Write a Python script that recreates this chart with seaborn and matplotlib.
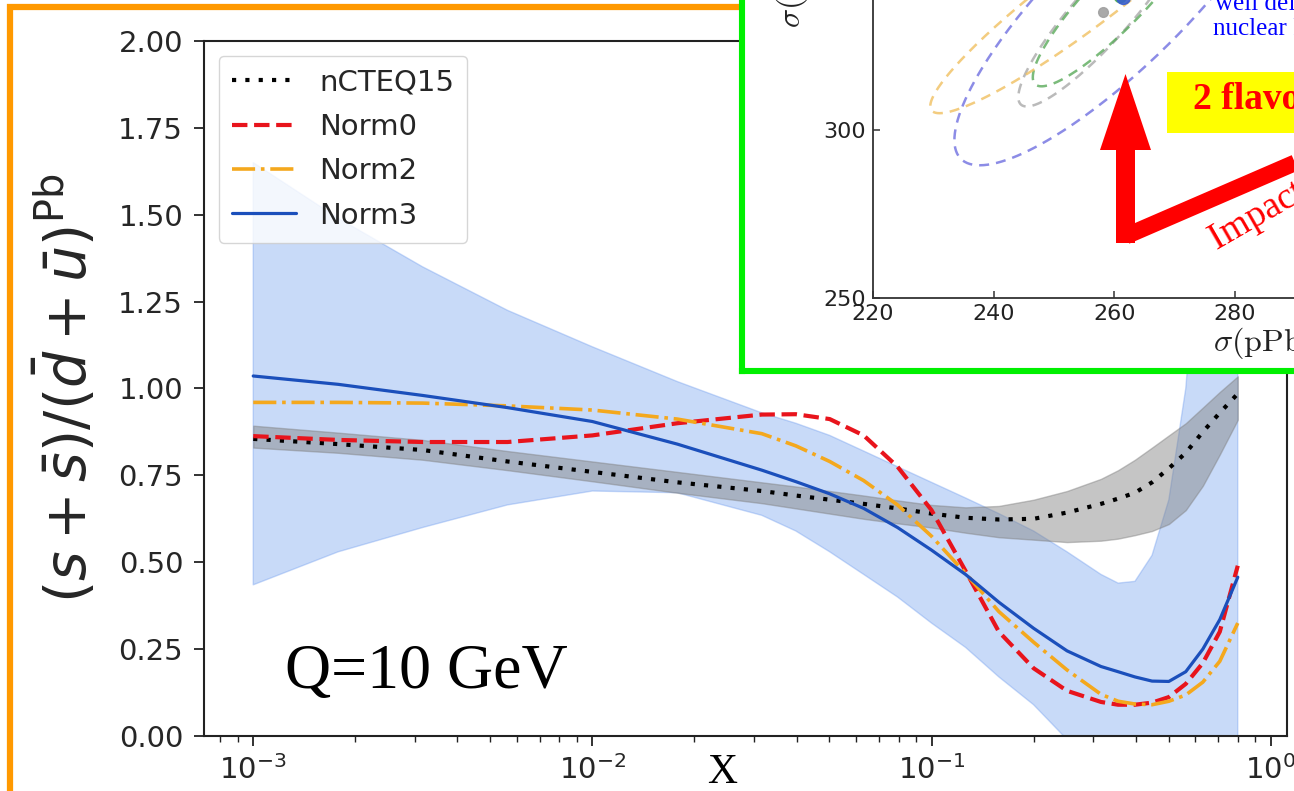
import numpy as np
import pandas as pd
import matplotlib
matplotlib.use("Agg")
import matplotlib.pyplot as plt
from matplotlib.patches import Rectangle, FancyArrow
from matplotlib.lines import Line2D
import seaborn as sns

# ---------------- data: strange-to-light sea quark ratio in Pb, Q = 10 GeV ----------------
x = [0.001, 0.00178, 0.00316, 0.00562, 0.01, 0.0178, 0.0316, 0.0398, 0.0501, 0.0631,
     0.0794, 0.1, 0.126, 0.158, 0.2, 0.251, 0.316, 0.355, 0.398, 0.447, 0.501, 0.562,
     0.631, 0.708, 0.8]

ncteq15 = [0.855, 0.840, 0.823, 0.790, 0.760, 0.730, 0.705, 0.692, 0.680, 0.668, 0.655, 0.640,
           0.628, 0.623, 0.625, 0.643, 0.668, 0.683, 0.700, 0.730, 0.770, 0.815, 0.875, 0.930, 0.985]
ncteq15_lo = [0.830, 0.815, 0.795, 0.765, 0.733, 0.700, 0.670, 0.655, 0.640, 0.625, 0.612, 0.600,
              0.585, 0.572, 0.565, 0.558, 0.562, 0.568, 0.578, 0.590, 0.610, 0.650, 0.720, 0.810, 0.910]
ncteq15_hi = [0.893, 0.873, 0.852, 0.820, 0.790, 0.760, 0.730, 0.718, 0.705, 0.692, 0.678, 0.665,
              0.658, 0.662, 0.680, 0.705, 0.740, 0.765, 0.795, 0.830, 0.865, 0.900, 0.945, 0.990, 1.035]

norm0 = [0.863, 0.852, 0.846, 0.846, 0.865, 0.900, 0.925, 0.926, 0.912, 0.865, 0.775, 0.650,
         0.475, 0.300, 0.195, 0.130, 0.098, 0.090, 0.090, 0.096, 0.112, 0.150, 0.210, 0.300, 0.490]
norm2 = [0.960, 0.960, 0.958, 0.950, 0.938, 0.912, 0.870, 0.835, 0.790, 0.735, 0.665, 0.575,
         0.468, 0.358, 0.270, 0.190, 0.120, 0.100, 0.092, 0.090, 0.100, 0.118, 0.155, 0.215, 0.325]
norm3 = [1.036, 1.012, 0.980, 0.945, 0.905, 0.840, 0.765, 0.732, 0.697, 0.655, 0.600, 0.535,
         0.465, 0.385, 0.310, 0.245, 0.200, 0.185, 0.170, 0.158, 0.157, 0.185, 0.250, 0.335, 0.457]
norm3_lo = [0.435, 0.530, 0.600, 0.665, 0.705, 0.700, 0.635, 0.590, 0.530, 0.465, 0.400, 0.325,
            0.255, 0.170, 0.090, -0.010, -0.100, -0.150, -0.200, -0.200, -0.200, -0.200, -0.200, -0.200, -0.200]
norm3_hi = [1.650, 1.490, 1.350, 1.225, 1.120, 1.020, 0.930, 0.900, 0.865, 0.820, 0.775, 0.730,
            0.685, 0.640, 0.590, 0.530, 0.465, 0.440, 0.445, 0.520, 0.680, 1.000, 1.600, 2.300, 3.000]

series_names = ["nCTEQ15", "Norm0", "Norm2", "Norm3"]
y_ticks = [0.00, 0.25, 0.50, 0.75, 1.00, 1.25, 1.50, 1.75, 2.00]

# ---------------- inset: W cross-section correlation ellipses ----------------
ell_names = ["nCTEQ15", "Norm0", "Norm2", "Norm3"]
ell_cx = [258.1, 261.0, 255.0, 261.5]
ell_cy = [335.0, 340.0, 340.0, 339.5]
ell_sx = [14.0, 14.5, 25.5, 28.0]
ell_sy = [28.0, 27.0, 35.0, 50.0]
ell_rho = [0.90, 0.90, 0.94, 0.85]
inset_xticks = [220, 240, 260, 280, 300]
inset_yticks = [250, 300, 350]

# ---------------- figure ----------------
sns.set_style("ticks")
plt.rcParams["font.family"] = ["DejaVu Sans"]
plt.rcParams["mathtext.fontset"] = "dejavusans"

W, H = 1294, 791
fig = plt.figure(figsize=(W / 100, H / 100), dpi=100)
fig.patch.set_facecolor("white")


def fx(px):
    return px / W


def fy(py):
    return (H - py) / H


# orange frame around the main panel
fig.add_artist(Rectangle((fx(10), -0.2), 2.0, fy(6.5) + 0.2, transform=fig.transFigure,
                         fill=False, edgecolor="#ff9900", lw=4.5, zorder=-1))

ax = fig.add_axes([fx(204), fy(736), (1287 - 204) / W, (736 - 41) / H])
ax.set_zorder(0)
ax.set_xscale("log")

df = pd.DataFrame({"x": x, "nCTEQ15": ncteq15, "Norm0": norm0, "Norm2": norm2, "Norm3": norm3})

ax.fill_between(x, norm3_lo, norm3_hi, color="cornflowerblue", alpha=0.35, lw=1, zorder=1)
ax.fill_between(x, ncteq15_lo, ncteq15_hi, color="gray", alpha=0.45, lw=1, zorder=2)

styles = {
    "nCTEQ15": dict(color="black", linestyle=(0, (1, 2.2)), lw=3.0),
    "Norm0": dict(color="#e8141c", linestyle="--", lw=3.0),
    "Norm2": dict(color="#f4a81d", linestyle="-.", lw=2.6),
    "Norm3": dict(color="#1b4fbb", linestyle="-", lw=2.3),
}
for name in series_names:
    sns.lineplot(data=df, x="x", y=name, ax=ax, label=name, zorder=3, **styles[name])

ax.set_ylim(0, 2)
ax.set_yticks(y_ticks)
ax.yaxis.set_major_formatter(matplotlib.ticker.FormatStrFormatter("%.2f"))
ax.tick_params(axis="both", which="major", labelsize=21, length=7, width=1.3, color="#222222")
ax.tick_params(axis="y", pad=8)
ax.tick_params(axis="x", pad=7)
ax.tick_params(axis="x", which="minor", length=4, width=1.0, color="#222222")
for s in ax.spines.values():
    s.set_linewidth(1.5)
    s.set_color("#222222")

ax.set_xlabel("")
ax.set_ylabel(r"$(s+\bar{s})/(\bar{d}+\bar{u})^{\rm Pb}$", fontsize=41)
ax.yaxis.set_label_coords(-0.097, 0.5)

ax.legend(loc="upper left", fontsize=21, handlelength=2.2, labelspacing=0.56,
          handletextpad=0.8, borderpad=0.45)

fig.text(fx(722), fy(783), "X", ha="center", va="baseline",
         family="Liberation Serif", fontsize=30, color="black")
fig.text(fx(285), fy(688), "Q=10 GeV", ha="left", va="baseline",
         family="Liberation Serif", fontsize=46, color="black")

# ---------------- inset panel (green frame) ----------------
panel = fig.add_axes([fx(742), fy(371), 0.5, 0.6])
panel.set_zorder(2)
panel.set_facecolor("white")
panel.set_xticks([])
panel.set_yticks([])
for side, s in panel.spines.items():
    s.set_color("#00f000")
    s.set_linewidth(4.4)

axi = fig.add_axes([fx(873), fy(298), 603 / W, 504 / H])
axi.set_zorder(3)
axi.patch.set_alpha(0)
axi.set_xlim(220, 320)
axi.set_ylim(250, 400)
axi.spines["top"].set_visible(False)
axi.spines["right"].set_visible(False)
for side in ("left", "bottom"):
    axi.spines[side].set_color("#333333")
    axi.spines[side].set_linewidth(1.3)
axi.set_xticks(inset_xticks)
axi.set_yticks(inset_yticks)
axi.tick_params(direction="in", length=5, width=1.1, labelsize=16, colors="#333333",
                labelcolor="#222222")
axi.tick_params(axis="y", pad=5)
axi.tick_params(axis="x", pad=4)

ell_colors = ["#a9a9a9", "#5aaa5a", "#f0c060", "#7070e0"]
t = np.linspace(0, 2 * np.pi, 300)
for cx, cy, sx, sy, rho, col in zip(ell_cx, ell_cy, ell_sx, ell_sy, ell_rho, ell_colors):
    cov = np.array([[sx ** 2, rho * sx * sy], [rho * sx * sy, sy ** 2]])
    L = np.linalg.cholesky(cov)
    pts = L @ np.vstack([np.cos(t), np.sin(t)])
    axi.plot(cx + pts[0], cy + pts[1], color=col, lw=1.8, alpha=0.8,
             linestyle=(0, (4, 2.8)))
axi.plot([ell_cx[1]], [ell_cy[1]], "o", color="#4caf50", ms=9, alpha=0.9)
axi.plot([ell_cx[3]], [ell_cy[3]], "o", color="#3a5fcd", ms=10, alpha=0.9)
axi.plot([ell_cx[0]], [ell_cy[0]], "o", color="#a0a0a0", ms=7, alpha=0.9)

fig.text(fx(792), fy(28), r"$\sigma(\mathrm{pPb}\rightarrow W^{+})$", rotation=90,
         ha="center", va="bottom", math_fontfamily="cm", fontsize=23, color="#222222", zorder=6)
fig.text(fx(1213), fy(351), r"$\sigma(\mathrm{pPb}\rightarrow W^{-})$", ha="left",
         va="baseline", math_fontfamily="cm", fontsize=23, color="#222222", zorder=6)

fig.text(fx(1215), fy(10), "well defined", ha="left", va="baseline", color="#0000ff",
         family="Liberation Serif", fontsize=18, zorder=6)
fig.text(fx(1213), fy(35), "nuclear PDFs", ha="left", va="baseline", color="#0000ff",
         family="Liberation Serif", fontsize=18, zorder=6)

fig.add_artist(Rectangle((fx(1167), fy(133)), 0.2, 61 / H, transform=fig.transFigure,
                         facecolor="#ffff00", edgecolor="none", zorder=5))
fig.text(fx(1193), fy(109), "2 flavors", ha="left", va="baseline", color="#ff0000",
         family="Liberation Serif", fontweight="bold", fontsize=27, zorder=6)

fig.add_artist(FancyArrow(1125.5 / 100, (H - 243) / 100, 0, (243 - 74) / 100,
                          width=0.19, head_width=0.51, head_length=0.76,
                          length_includes_head=True, color="#ff0000", lw=0,
                          transform=fig.dpi_scale_trans, zorder=5))
fig.add_artist(Line2D([1126 / 100, 1320 / 100], [(H - 236) / 100, (H - 152) / 100],
                      transform=fig.dpi_scale_trans, lw=12, color="#ff0000",
                      solid_capstyle="butt", zorder=5))
fig.text(fx(1217), fy(250), "Impact of data", rotation=30, rotation_mode="anchor",
         ha="left", va="baseline", color="#ff0000", family="Liberation Serif",
         fontsize=27, zorder=6)

fig.savefig("out.png", dpi=100)
